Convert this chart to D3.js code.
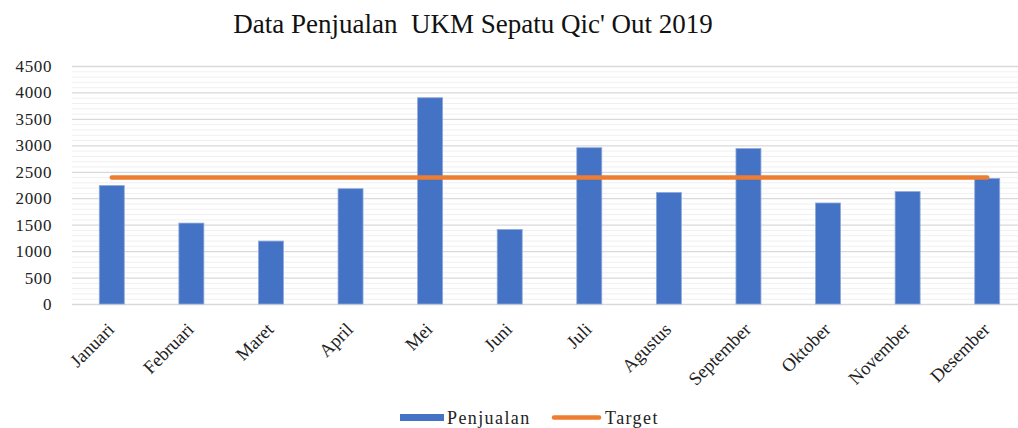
<!DOCTYPE html>
<html>
<head>
<meta charset="utf-8">
<script src="https://cdn.jsdelivr.net/npm/d3@7"></script>
<style>
  body { margin: 0; background: #fff; }
  svg { display: block; font-family: "Liberation Serif", "Times New Roman", serif; }
</style>
</head>
<body>
<svg width="1018" height="428"></svg>
<script>
var months = ["Januari", "Februari", "Maret", "April", "Mei", "Juni", "Juli",
  "Agustus", "September", "Oktober", "November", "Desember"];
var penjualan = [2240, 1530, 1190, 2180, 3900, 1410, 2955, 2110, 2940, 1910, 2125, 2375];
var target = [2390, 2390, 2390, 2390, 2390, 2390, 2390, 2390, 2390, 2390, 2390, 2390];
var yTicks = [0, 500, 1000, 1500, 2000, 2500, 3000, 3500, 4000, 4500];

var svg = d3.select("svg"),
  width = +svg.attr("width"),
  height = +svg.attr("height");

var margin = {top: 66, right: -9, bottom: 124, left: 72};

var x = d3.scaleBand()
  .domain(months)
  .range([margin.left, width - margin.right])
  .paddingInner(0.686)
  .paddingOuter(0.343);

var y = d3.scaleLinear()
  .domain([0, 4500])
  .range([height - margin.bottom, margin.top]);

// minor gridlines every 100
svg.append("g")
  .selectAll("line")
  .data(d3.range(0, 4501, 100).filter(function(d) { return d % 500 != 0; }))
  .enter().append("line")
  .attr("x1", margin.left)
  .attr("x2", width - margin.right)
  .attr("y1", function(d) { return y(d) + 0.5; })
  .attr("y2", function(d) { return y(d) + 0.5; })
  .attr("stroke", "#f0f0f0")
  .attr("stroke-width", 1);

// major gridlines
svg.append("g")
  .selectAll("line")
  .data(yTicks)
  .enter().append("line")
  .attr("x1", margin.left)
  .attr("x2", width - margin.right)
  .attr("y1", function(d) { return y(d) + 0.5; })
  .attr("y2", function(d) { return y(d) + 0.5; })
  .attr("stroke", "#d9d9d9")
  .attr("stroke-width", 1.3);

// y axis labels
var yAxis = svg.append("g")
  .attr("transform", "translate(" + (margin.left - 20) + ",0)")
  .call(d3.axisLeft(y).tickValues(yTicks).tickFormat(d3.format("d")).tickSize(0).tickPadding(0));
yAxis.select(".domain").remove();
yAxis.attr("font-family", null).attr("font-size", null);
yAxis.selectAll("text")
  .style("font-family", "'Liberation Serif', serif")
  .style("font-size", "17px")
  .style("letter-spacing", "0.6px")
  .attr("fill", "#222");

// bars
svg.append("g")
  .selectAll("rect")
  .data(penjualan)
  .enter().append("rect")
  .attr("x", function(d, i) { return x(months[i]); })
  .attr("y", function(d) { return y(d); })
  .attr("width", x.bandwidth())
  .attr("height", function(d) { return y(0) - y(d); })
  .attr("fill", "#4472c4")
  .attr("stroke", "#8faadc")
  .attr("stroke-width", 0.8);

// target line
var line = d3.line()
  .x(function(d, i) { return x(months[i]) + x.bandwidth() / 2; })
  .y(function(d) { return y(d); });

svg.append("path")
  .datum(target)
  .attr("d", line)
  .attr("fill", "none")
  .attr("stroke", "#ed7d31")
  .attr("stroke-width", 4.5)
  .attr("stroke-linecap", "round");

// x axis labels
var xAxis = svg.append("g")
  .attr("transform", "translate(0," + (y(0) + 22) + ")")
  .call(d3.axisBottom(x).tickSize(0).tickPadding(0));
xAxis.select(".domain").remove();
xAxis.attr("font-family", null).attr("font-size", null);
xAxis.selectAll("text")
  .style("font-family", "'Liberation Serif', serif")
  .style("font-size", "18.5px")
  .attr("fill", "#222")
  .attr("text-anchor", "end")
  .attr("y", 0)
  .attr("dy", "0.35em")
  .attr("transform", "translate(-1,0) rotate(-45)");

// title
svg.append("text")
  .attr("x", 473)
  .attr("y", 33)
  .attr("text-anchor", "middle")
  .attr("font-size", 27)
  .style("white-space", "pre")
  .attr("fill", "#111")
  .text("Data Penjualan  UKM Sepatu Qic' Out 2019");

// legend
var legend = svg.append("g")
  .style("font-size", "18px")
  .style("letter-spacing", "1.4px");
legend.append("rect")
  .attr("x", 400).attr("y", 414)
  .attr("width", 44).attr("height", 7)
  .attr("fill", "#4472c4");
legend.append("text")
  .attr("x", 447).attr("y", 424)
  .attr("fill", "#222")
  .text("Penjualan");
legend.append("line")
  .attr("x1", 554).attr("x2", 599)
  .attr("y1", 417.5).attr("y2", 417.5)
  .attr("stroke", "#ed7d31")
  .attr("stroke-width", 4.5)
  .attr("stroke-linecap", "round");
legend.append("text")
  .attr("x", 605).attr("y", 424)
  .attr("fill", "#222")
  .text("Target");
</script>
</body>
</html>
